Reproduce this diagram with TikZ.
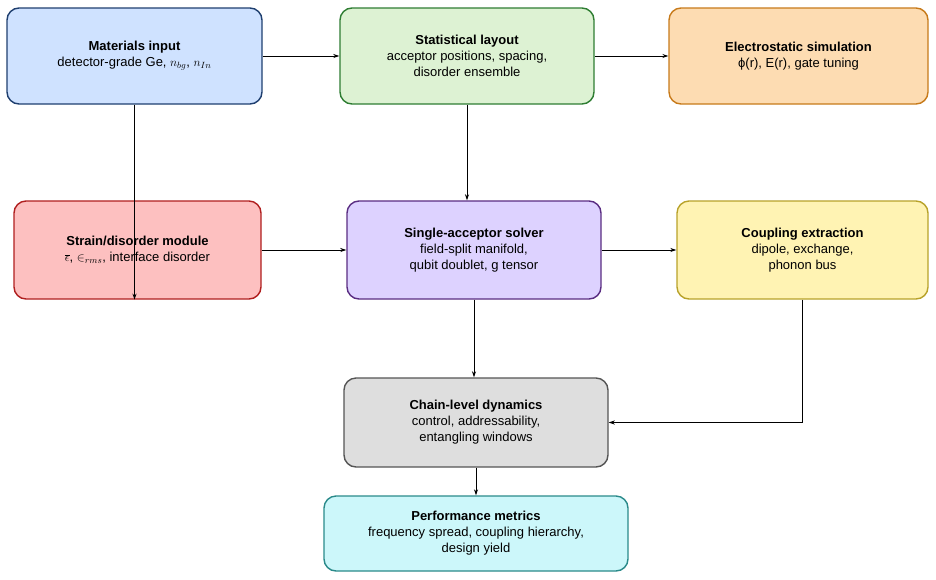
\documentclass[tikz,border=0pt]{standalone}
\usepackage{fontspec}
\setmainfont{Liberation Sans}
\usetikzlibrary{arrows.meta}
\definecolor{bF}{HTML}{CFE2FF}\definecolor{bD}{HTML}{1F3F6F}
\definecolor{gF}{HTML}{DDF2D3}\definecolor{gD}{HTML}{2E7D32}
\definecolor{oF}{HTML}{FDDCB2}\definecolor{oD}{HTML}{C77A1A}
\definecolor{rF}{HTML}{FDC0C0}\definecolor{rD}{HTML}{B01F1F}
\definecolor{pF}{HTML}{DDD2FF}\definecolor{pD}{HTML}{5A2D82}
\definecolor{yF}{HTML}{FFF3B3}\definecolor{yD}{HTML}{B8A22A}
\definecolor{kF}{HTML}{DEDEDE}\definecolor{kD}{HTML}{555555}
\definecolor{cF}{HTML}{CCF7FA}\definecolor{cD}{HTML}{2A8A8A}
\begin{document}
\begin{tikzpicture}[x=1pt,y=-1pt,
  box/.style={draw=#1D,fill=#1F,line width=1.4pt,rounded corners=12pt,align=center,
    font=\fontsize{13}{16}\selectfont,inner sep=0pt},
  arr/.style={-{Stealth[length=6pt,width=4pt]},line width=1pt}]
\useasboundingbox (0,0) rectangle (936,579);
\newcommand{\bx}[7]{\node[box=#1,minimum width=#4pt,minimum height=#5pt] (#2) at (#3) {\textbf{#6}\\#7};}
\bx{b}{mat}{134.5,56}{255}{96}{Materials input}{detector-grade Ge, $n_{bg}$, $n_{In}$}
\bx{g}{stat}{467,56}{254}{96}{Statistical layout}{acceptor positions, spacing,\\disorder ensemble}
\bx{o}{elec}{798.5,56}{259}{96}{Electrostatic simulation}{ϕ(r), E(r), gate tuning}
\bx{r}{str}{137.5,250}{247}{98}{Strain/disorder module}{$\overline{\epsilon}$, $\in_{rms}$, interface disorder}
\bx{p}{sing}{474,250}{254}{98}{Single-acceptor solver}{field-split manifold,\\qubit doublet, g tensor}
\bx{y}{coup}{802.5,250}{251}{98}{Coupling extraction}{dipole, exchange,\\phonon bus}
\bx{k}{chain}{476,422.5}{264}{89}{Chain-level dynamics}{control, addressability,\\entangling windows}
\bx{c}{perf}{476,533.5}{304}{75}{Performance metrics}{frequency spread, coupling hierarchy,\\design yield}
\draw[arr] (mat) -- (stat);
\draw[arr] (stat) -- (elec);
\draw[arr] (mat.south) -- (str.south -| mat.south) ;
\draw[arr] (stat) -- (sing.north -| stat.south);
\draw[arr] (str) -- (sing);
\draw[arr] (sing) -- (coup);
\draw[arr] (sing) -- (chain.north -| sing.south);
\draw[arr] (coup.south) |- (chain.east);
\draw[arr] (chain) -- (perf);
\end{tikzpicture}
\end{document}
